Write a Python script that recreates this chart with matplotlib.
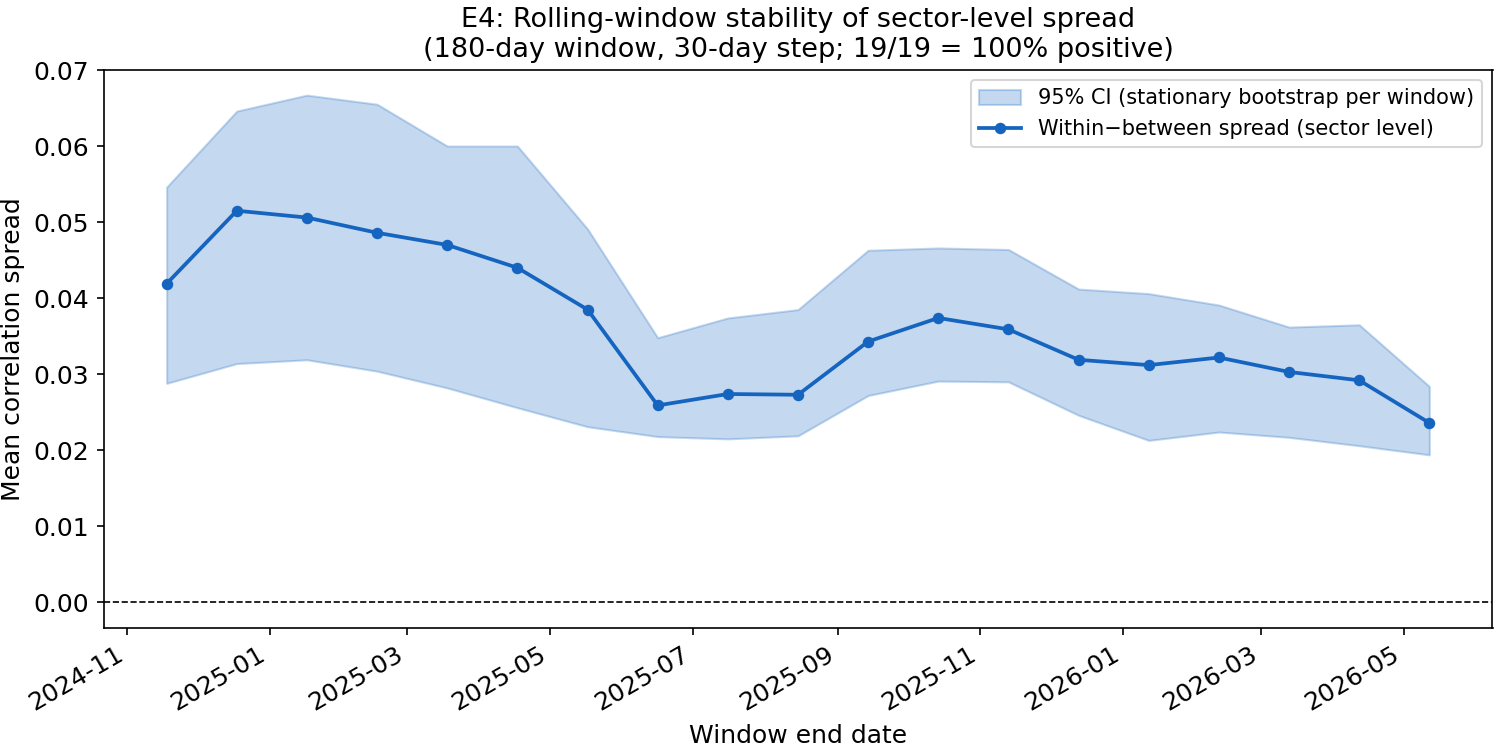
import numpy as np
import pandas as pd
import matplotlib
matplotlib.use("Agg")
import matplotlib.pyplot as plt
import matplotlib.dates as mdates

# Window end dates (30-day step)
window_end = pd.to_datetime([
    "2024-11-18", "2024-12-18", "2025-01-17", "2025-02-16", "2025-03-18",
    "2025-04-17", "2025-05-17", "2025-06-16", "2025-07-16", "2025-08-15",
    "2025-09-14", "2025-10-14", "2025-11-13", "2025-12-13", "2026-01-12",
    "2026-02-11", "2026-03-13", "2026-04-12", "2026-05-12",
])

spread = [0.0419, 0.0515, 0.0506, 0.0486, 0.0470, 0.0440, 0.0385, 0.0259,
          0.0274, 0.0273, 0.0343, 0.0374, 0.0359, 0.0319, 0.0312, 0.0322,
          0.0303, 0.0292, 0.0236]
ci_hi = [0.0546, 0.0646, 0.0667, 0.0655, 0.0600, 0.0600, 0.0491, 0.0348,
         0.0374, 0.0385, 0.0463, 0.0466, 0.0464, 0.0412, 0.0406, 0.0391,
         0.0362, 0.0365, 0.0284]
ci_lo = [0.0288, 0.0314, 0.0319, 0.0304, 0.0282, 0.0256, 0.0231, 0.0218,
         0.0215, 0.0219, 0.0272, 0.0291, 0.0290, 0.0246, 0.0213, 0.0224,
         0.0217, 0.0206, 0.0194]

COLOR = "#1565C0"
FONT_TITLE = 13
FONT_LABEL = 12
FONT_TICK = 12
FONT_LEGEND = 10

fig, ax = plt.subplots(figsize=(10, 5), dpi=150)

ax.fill_between(window_end, ci_lo, ci_hi, color=COLOR, alpha=0.25,
                label="95% CI (stationary bootstrap per window)")
ax.plot(window_end, spread, color=COLOR, marker="o", markersize=4.5,
        linewidth=1.8, label="Within\u2212between spread (sector level)")
ax.axhline(0, color="black", linestyle="--", linewidth=0.8)

ax.xaxis.set_major_locator(mdates.MonthLocator(bymonth=[1, 3, 5, 7, 9, 11]))
ax.xaxis.set_major_formatter(mdates.DateFormatter("%Y-%m"))
ax.tick_params(labelsize=FONT_TICK)

ax.set_xlabel("Window end date", fontsize=FONT_LABEL)
ax.set_ylabel("Mean correlation spread", fontsize=FONT_LABEL)
ax.set_title("E4: Rolling-window stability of sector-level spread\n"
             "(180-day window, 30-day step; 19/19 = 100% positive)",
             fontsize=FONT_TITLE)
ax.legend(loc="upper right", fontsize=FONT_LEGEND)

fig.autofmt_xdate()
fig.subplots_adjust(left=0.069, right=0.995, top=0.907, bottom=0.163)
fig.savefig("out.png")
